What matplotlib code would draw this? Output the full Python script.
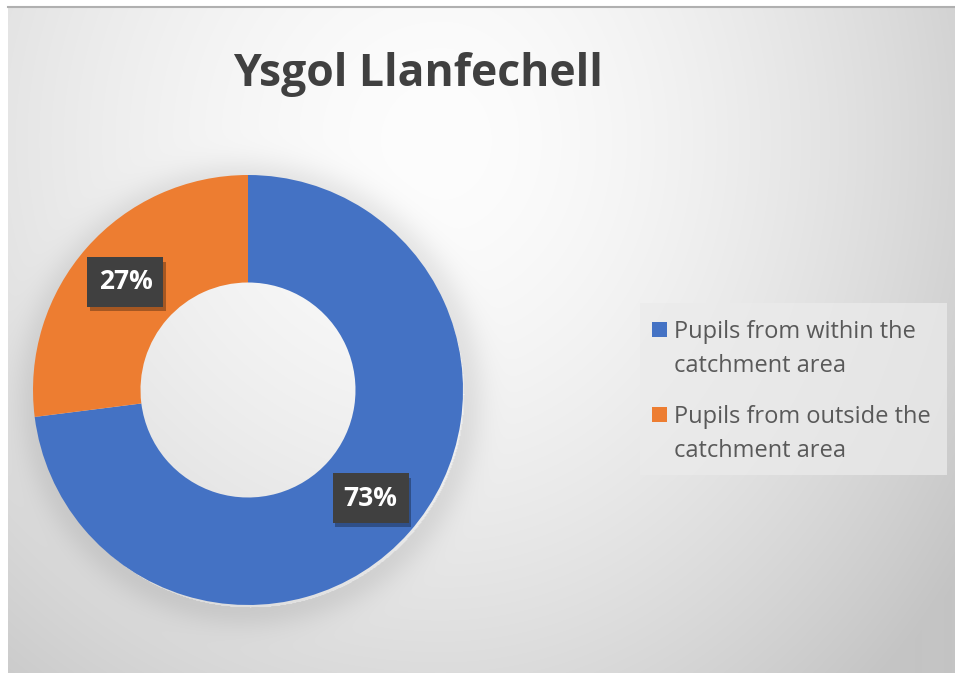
import numpy as np
import matplotlib
matplotlib.use("Agg")
import matplotlib.pyplot as plt
from matplotlib.patches import Rectangle
import matplotlib.patheffects as pe

# ---- data ----
title = "Ysgol Llanfechell"
categories = ["Pupils from within the\ncatchment area",
              "Pupils from outside the\ncatchment area"]
shares = [73, 27]
colors = ["#4472C4", "#ED7D31"]

W, H = 955, 673
fig = plt.figure(figsize=(W / 100, H / 100), dpi=100)
fig.patch.set_facecolor("white")

def fx(px):
    return px / W

def fy(py):  # py measured from top
    return 1 - py / H

# ---- background gradient (chart area) ----
L, T = 8, 7
bg = fig.add_axes([fx(L), 0, 1 - fx(L), 1 - T / H])
yy, xx = np.mgrid[T:H, L:W].astype(float)
dx = xx - 440
dx = np.where(dx > 0, dx * 1.18, dx)
dy = yy - 140
d = np.sqrt(dx ** 2 + dy ** 2)
v = 253 - 40 * (d / 600) ** 1.6
v = np.maximum(v, 196)
# soft halo/shadow around the doughnut
r = np.sqrt((xx - 250) ** 2 + (yy - 394) ** 2)
s = np.clip(r - 213, 0, None)
v = v - 20 * np.exp(-(s / 22) ** 2) * (r > 213)
v = np.clip(v, 0, 255) / 255.0
img = np.dstack([v, v, v])
bg.imshow(img, extent=[0, 1, 0, 1], aspect="auto", origin="upper",
          interpolation="bilinear")
bg.set_axis_off()
fig.add_artist(plt.Line2D([fx(L), 1], [fy(T), fy(T)], color="#b0b0b0", lw=1.5))

# ---- title ----
fig.text(fx(418), fy(86), title, ha="center", va="baseline",
         fontsize=32, fontweight="bold", color="#404040", family="Open Sans")

# ---- doughnut ----
cx, cy, R = 248, 390, 215
ax = fig.add_axes([fx(cx - R), fy(cy + R), 2 * R / W, 2 * R / H])
wedges, _ = ax.pie(shares, colors=colors, startangle=90, counterclock=False,
                   radius=1.0, wedgeprops=dict(width=0.5, linewidth=0))
ax.set_xlim(-1, 1)
ax.set_ylim(-1, 1)
ax.set_axis_off()

for w, val in zip(wedges, shares):
    ang = np.deg2rad((w.theta1 + w.theta2) / 2)
    t = ax.text(0.76 * np.cos(ang), 0.76 * np.sin(ang), f"{val}%",
                ha="center", va="center", fontsize=19, fontweight="bold",
                color="white", family="Open Sans",
                bbox=dict(boxstyle="square,pad=0.42", fc="#404040", ec="none"))
    t.get_bbox_patch().set_path_effects(
        [pe.SimplePatchShadow(offset=(2, -3), shadow_rgbFace="black", alpha=0.3),
         pe.Normal()])

# ---- legend (manual) ----
fig.add_artist(Rectangle((fx(640), fy(475)), fx(947) - fx(640), fy(303) - fy(475),
                         transform=fig.transFigure, fc="#ebebeb", ec="none",
                         alpha=0.75))
line_gap = 34
entry_top = [338, 423]
for lab, col, base in zip(categories, colors, entry_top):
    fig.add_artist(Rectangle((fx(652), fy(base - 1)), 15 / W, 15 / H,
                             transform=fig.transFigure, fc=col, ec="none"))
    for k, line in enumerate(lab.split("\n")):
        fig.text(fx(674), fy(base + k * line_gap), line, ha="left",
                 va="baseline", fontsize=17, color="#595959",
                 family="Open Sans")

fig.savefig("out.png", dpi=100)
